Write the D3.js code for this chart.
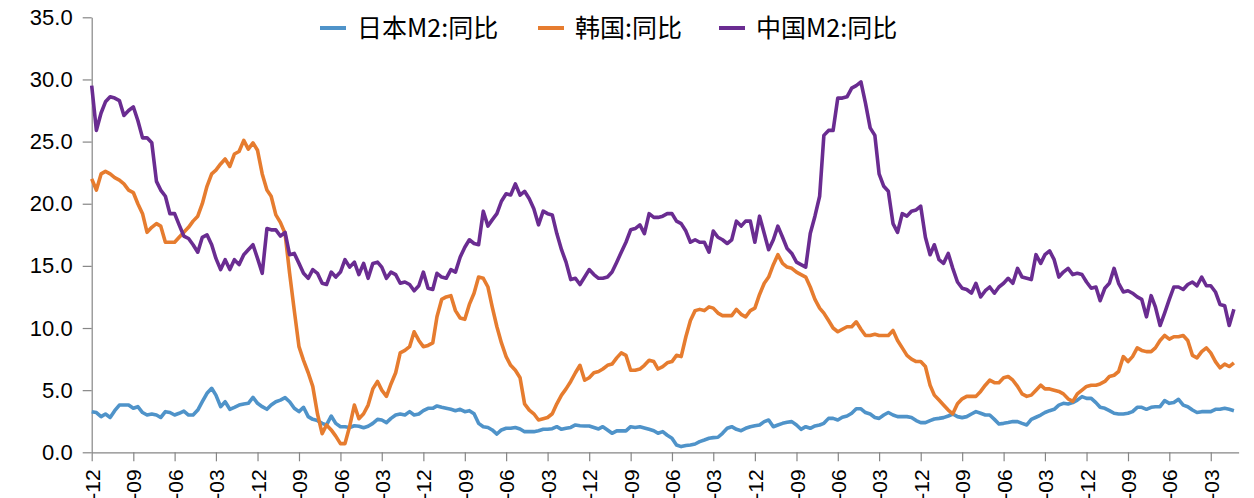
<!DOCTYPE html>
<html>
<head>
<meta charset="utf-8">
<script src="https://cdn.jsdelivr.net/npm/d3@7/dist/d3.min.js"></script>
<style>
  html, body { margin: 0; padding: 0; background: #ffffff; }
  svg { display: block; }
</style>
</head>
<body>
<svg id="chart" width="1254" height="498"></svg>
<script>
// ---- data (monthly, starting 1995-12) ----
const startMonth = "1995-12";
const seriesNames = ["日本M2:同比", "韩国:同比", "中国M2:同比"];
const seriesColors = ["#4f93c9", "#e67c2f", "#6a2c91"];

const japanM2 = [
  3.27,3.2,2.87,3.08,2.8,3.35,3.8,3.8,3.8,3.54,
  3.67,3.2,3.0,3.08,3.0,2.8,3.27,3.2,3.0,3.14,
  3.32,3.0,3.0,3.4,4.07,4.75,5.15,4.6,3.67,4.07,
  3.46,3.62,3.8,3.89,3.94,4.42,3.94,3.67,3.46,3.8,
  4.07,4.2,4.4,
  4.07,3.54,3.27,3.62,2.87,2.65,2.55,2.33,2.2,2.92,
  2.33,2.06,2.06,2.0,2.14,2.1,1.98,2.1,2.33,2.65,
  2.6,2.39,2.73,3.0,3.08,3.0,3.27,3.0,3.08,3.35,
  3.54,3.54,3.73,3.62,3.54,3.46,3.35,3.46,3.27,3.35,
  3.1,
  2.33,2.06,2.0,1.8,1.47,1.8,1.93,1.93,2.0,1.88,
  1.66,1.66,1.66,1.74,1.85,1.85,1.9,2.06,1.85,1.93,
  2.0,2.2,2.14,2.12,2.12,2.0,1.88,2.06,1.8,1.53,
  1.72,1.72,1.72,2.06,2.0,2.06,1.96,1.85,1.74,1.53,
  1.66,1.37,
  1.13,0.59,0.46,0.54,0.59,0.67,0.86,0.99,1.13,1.18,
  1.21,1.53,1.93,2.06,1.85,1.74,1.93,2.06,2.14,2.2,
  2.47,2.6,2.06,2.2,2.33,2.41,2.47,2.2,1.85,2.06,
  1.93,2.12,2.2,2.33,2.73,2.73,2.6,2.82,2.92,3.14,
  3.5,3.5,
  3.2,3.08,2.8,2.73,3.0,3.2,3.0,2.87,2.87,2.87,
  2.8,2.55,2.39,2.39,2.55,2.68,2.73,2.79,2.92,3.08,
  2.87,2.79,2.87,3.08,3.27,3.14,3.0,3.0,2.65,2.28,
  2.33,2.39,2.47,2.47,2.33,2.2,2.65,2.82,3.0,3.2,3.35,
  3.46,3.8,3.94,3.89,4.0,4.2,4.48,4.34,4.34,4.0,
  3.62,3.54,3.35,3.14,3.08,3.08,3.14,3.27,3.62,3.62,
  3.46,3.62,3.67,3.67,4.16,3.94,4.0,4.26,3.8,3.67,
  3.4,3.2,3.27,3.27,3.27,3.46,3.46,3.54,3.46,3.35
];

const koreaM2 = [
  22.0,21.1,22.4,22.6,22.4,22.1,21.9,21.6,21.1,20.9,
  20.0,19.2,17.7,18.1,18.4,18.2,16.9,16.9,16.9,17.3,
  17.7,18.1,18.6,19.0,20.0,21.4,22.4,22.7,23.2,23.6,
  23.0,24.0,24.2,25.1,24.4,24.9,24.3,22.4,21.1,20.6,
  19.1,18.5,17.6,
  14.4,11.4,8.5,7.4,6.4,5.3,3.1,1.5,2.2,1.8,
  1.3,0.7,0.7,2.1,3.8,2.7,3.1,3.8,5.1,5.7,
  5.0,4.5,5.5,6.4,8.0,8.2,8.5,9.7,9.0,8.5,
  8.6,8.8,10.9,12.3,12.5,12.6,11.4,10.8,10.7,11.9,
  12.8,
  14.1,14.0,13.3,11.7,10.1,8.8,7.7,7.0,6.6,6.0,
  3.9,3.4,3.1,2.6,2.7,2.8,3.1,3.9,4.6,5.1,
  5.7,6.4,7.0,5.8,6.0,6.4,6.5,6.7,7.0,7.1,
  7.6,8.0,7.8,6.6,6.6,6.7,7.0,7.4,7.3,6.7,
  6.9,7.2,
  7.3,7.8,7.7,9.3,10.6,11.4,11.5,11.4,11.7,11.6,
  11.2,11.0,11.0,11.0,11.5,11.1,10.9,11.4,11.6,12.7,
  13.6,14.1,15.1,15.9,15.2,14.9,14.8,14.5,14.3,14.1,
  13.3,12.3,11.6,11.2,10.6,10.0,9.7,9.9,10.1,10.1,
  10.5,9.9,
  9.4,9.4,9.5,9.4,9.4,9.4,9.8,9.0,8.4,7.8,
  7.5,7.3,7.3,6.9,5.4,4.6,4.2,3.8,3.4,3.1,
  3.9,4.3,4.5,4.5,4.5,4.9,5.4,5.8,5.6,5.6,
  6.0,6.1,5.8,5.3,4.7,4.5,4.6,5.0,5.4,5.1,5.1,
  5.0,4.9,4.7,4.3,4.1,4.7,5.0,5.3,5.4,5.4,
  5.5,5.7,6.1,6.2,6.5,7.7,7.3,7.7,8.4,8.2,
  8.1,8.1,8.4,9.0,9.4,9.1,9.3,9.3,9.4,9.0,
  7.8,7.6,8.1,8.4,8.0,7.3,6.8,7.1,6.9,7.2
];

const chinaM2 = [
  29.5,25.9,27.3,28.2,28.6,28.5,28.3,27.1,27.5,27.8,
  26.7,25.3,25.3,24.9,21.8,21.1,20.6,19.2,19.2,18.3,
  17.4,17.2,16.7,16.1,17.3,17.5,16.7,15.6,14.7,15.5,
  14.7,15.5,15.1,15.9,16.3,16.7,15.6,14.4,18.0,17.9,
  17.9,17.4,17.7,
  15.9,16.0,15.2,14.4,14.0,14.7,14.4,13.6,13.5,14.5,
  14.1,14.5,15.5,14.9,15.3,14.3,15.2,14.0,15.2,15.3,
  14.9,14.0,14.5,14.3,13.6,13.7,13.5,13.0,13.4,14.5,
  13.2,13.1,14.4,14.1,14.0,14.7,14.5,15.7,16.5,17.1,
  16.8,
  16.7,19.4,18.2,18.7,19.2,20.2,20.8,20.7,21.6,20.7,
  21.0,20.4,19.6,18.3,19.4,19.2,19.1,17.6,16.3,15.3,
  13.9,14.0,13.5,14.1,14.7,14.3,14.0,14.0,14.1,14.5,
  15.3,16.1,16.9,17.9,18.0,18.3,17.6,19.2,18.9,18.9,
  19.0,19.2,
  19.2,18.6,18.4,17.8,16.9,17.1,16.9,16.9,16.1,17.8,
  17.3,17.1,16.8,17.1,18.6,18.2,18.6,18.6,16.9,19.0,
  17.6,16.3,17.1,18.2,17.3,16.4,16.0,15.3,15.1,14.9,
  17.6,19.0,20.6,25.5,25.9,25.9,28.5,28.5,28.6,29.3,
  29.5,29.8,
  28.1,26.1,25.5,22.4,21.4,21.0,18.4,17.7,19.2,19.0,
  19.4,19.5,19.8,17.3,15.9,16.7,15.5,15.2,16.0,14.8,
  13.7,13.2,13.1,12.8,13.6,12.5,13.0,13.3,12.8,13.3,
  13.6,14.0,13.6,14.8,14.1,14.0,13.9,15.9,15.2,15.9,16.2,
  15.5,14.1,14.5,14.8,14.3,14.4,14.3,13.7,13.2,13.3,
  12.2,13.2,13.6,14.8,13.6,12.9,13.0,12.8,12.5,12.3,
  10.9,12.6,11.7,10.2,11.2,12.3,13.3,13.3,13.1,13.5,
  13.7,13.4,14.1,13.4,13.4,12.9,11.9,11.8,10.2,11.5
];

const xTickLabels = [
  "1995-12","1996-09","1997-06","1998-03","1998-12","1999-09","2000-06",
  "2001-03","2001-12","2002-09","2003-06","2004-03","2004-12","2005-09",
  "2006-06","2007-03","2007-12","2008-09","2009-06","2010-03","2010-12",
  "2011-09","2012-06","2013-03","2013-12","2014-09","2015-06","2016-03"
];
const yTickValues = [0, 5, 10, 15, 20, 25, 30, 35];

// ---- build ----
const parseMonth = d3.timeParse("%Y-%m");
const fmtMonth = d3.timeFormat("%Y-%m");
const start = parseMonth(startMonth);
const n = chinaM2.length;
const months = d3.range(n).map(i => d3.timeMonth.offset(start, i));
const allSeries = [japanM2, koreaM2, chinaM2];

const svg = d3.select("#chart");
const plotLeft = 91.7, plotRight = 1238.6, plotTop = 17.3, plotBottom = 452.3;

const x = d3.scaleTime()
  .domain([start, d3.timeMonth.offset(start, n)])
  .range([plotLeft, plotRight]);
const y = d3.scaleLinear().domain([0, 35]).range([plotBottom, plotTop]);

const axisColor = "#868686";

// x axis
const gx = svg.append("g")
  .attr("transform", `translate(0,${plotBottom})`)
  .call(d3.axisBottom(x)
    .tickValues(xTickLabels.map(parseMonth))
    .tickFormat(fmtMonth)
    .tickSize(9)
    .tickSizeOuter(0));
gx.select(".domain").attr("stroke", axisColor).attr("stroke-width", 1.2);
gx.selectAll(".tick line").attr("stroke", axisColor).attr("stroke-width", 1.2);
gx.selectAll(".tick text")
  .attr("transform", "rotate(-90)")
  .attr("x", -17)
  .attr("y", 0)
  .attr("dy", "0.36em")
  .style("text-anchor", "end")
  .style("font-family", "'Liberation Sans', Arial, sans-serif")
  .style("font-size", "21px")
  .attr("fill", "#000");

// y axis
const gy = svg.append("g")
  .attr("transform", `translate(${plotLeft},0)`)
  .call(d3.axisLeft(y)
    .tickValues(yTickValues)
    .tickFormat(d3.format(".1f"))
    .tickSize(9)
    .tickPadding(10)
    .tickSizeOuter(0));
gy.select(".domain").attr("stroke", axisColor).attr("stroke-width", 1.2);
gy.selectAll(".tick line").attr("stroke", axisColor).attr("stroke-width", 1.2);
gy.selectAll(".tick text")
  .style("font-family", "'Liberation Sans', Arial, sans-serif")
  .style("font-size", "22px")
  .attr("fill", "#000");

// lines
const line = d3.line()
  .x((d, i) => x(months[i]))
  .y(d => y(d));

allSeries.forEach((s, k) => {
  svg.append("path")
    .datum(s)
    .attr("fill", "none")
    .attr("stroke", seriesColors[k])
    .attr("stroke-width", 3.6)
    .attr("stroke-linejoin", "round")
    .attr("d", line);
});

// legend
const legendPos = [320, 538, 719];
const legend = svg.append("g");
seriesNames.forEach((name, k) => {
  const g = legend.append("g").attr("transform", `translate(${legendPos[k]},28)`);
  g.append("line")
    .attr("x1", 0).attr("x2", 26).attr("y1", 0).attr("y2", 0)
    .attr("stroke", seriesColors[k]).attr("stroke-width", 4);
  g.append("text")
    .attr("x", 37).attr("y", 0).attr("dy", "0.36em")
    .style("font-family", "'Noto Sans CJK SC', 'Noto Sans', sans-serif")
    .style("font-size", "25px")
    .attr("fill", "#000")
    .text(name);
});
</script>
</body>
</html>
